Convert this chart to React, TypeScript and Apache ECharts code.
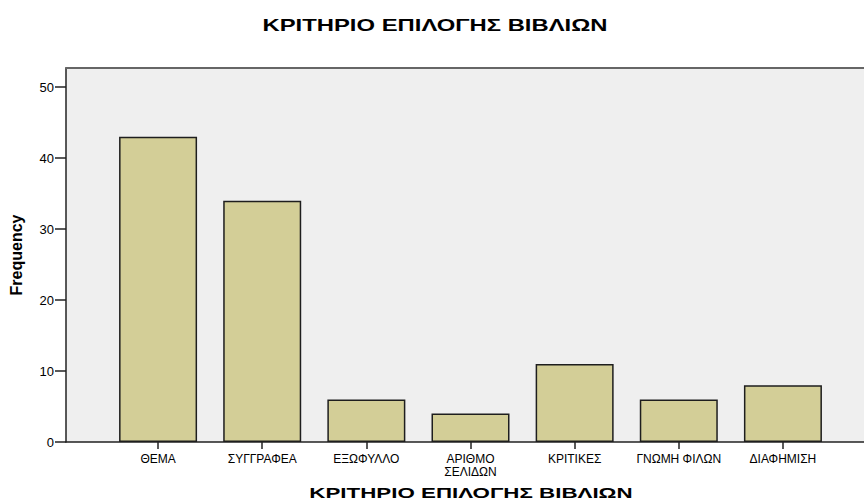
import React, { useEffect, useRef } from "react";
import * as echarts from "echarts";

const categories = [
  "ΘΕΜΑ",
  "ΣΥΓΓΡΑΦΕΑ",
  "ΕΞΩΦΥΛΛΟ",
  "ΑΡΙΘΜΟ\nΣΕΛΙΔΩΝ",
  "ΚΡΙΤΙΚΕΣ",
  "ΓΝΩΜΗ ΦΙΛΩΝ",
  "ΔΙΑΦΗΜΙΣΗ",
];
const frequencies = [43, 34, 6, 4, 11, 6, 8];
const yTicks = [0, 10, 20, 30, 40, 50];
const chartTitle = "ΚΡΙΤΗΡΙΟ ΕΠΙΛΟΓΗΣ ΒΙΒΛΙΩΝ";
const xAxisTitle = "ΚΡΙΤΗΡΙΟ ΕΠΙΛΟΓΗΣ ΒΙΒΛΙΩΝ";
const yAxisTitle = "Frequency";

const FONT = "'Liberation Sans', Arial, sans-serif";
const Y_MAX = 52.7;

export default function App() {
  const ref = useRef<HTMLDivElement>(null);

  useEffect(() => {
    if (!ref.current) return;
    const chart = echarts.init(ref.current, undefined, { renderer: "svg" });
    const gridTop = 68;
    const gridBottom = 60;

    chart.setOption({
      animation: false,
      backgroundColor: "#ffffff",
      textStyle: { fontFamily: FONT },
      graphic: [
        // wide bold headings
        {
          type: "text",
          x: 435,
          y: 25,
          scaleX: 1.49,
          silent: true,
          style: {
            text: chartTitle,
            font: `bold 16px ${FONT}`,
            fill: "#000",
            textAlign: "center",
            textVerticalAlign: "middle",
          },
        },
        {
          type: "text",
          x: 471,
          y: 493,
          scaleX: 1.49,
          silent: true,
          style: {
            text: xAxisTitle,
            font: `bold 15px ${FONT}`,
            fill: "#000",
            textAlign: "center",
            textVerticalAlign: "middle",
          },
        },
      ],
      grid: [
        // frame with the frequency scale
        {
          left: 66,
          right: 0,
          top: gridTop,
          bottom: gridBottom,
          show: true,
          backgroundColor: "#efefef",
          borderWidth: 0,
          outerBoundsMode: "none",
        },
        // category band holding the bars
        {
          left: 106,
          right: 29,
          top: gridTop,
          bottom: gridBottom,
          outerBoundsMode: "none",
        },
      ],
      xAxis: [
        {
          gridIndex: 0,
          type: "value",
          min: 0,
          max: 1,
          position: "bottom",
          axisLine: { show: true, lineStyle: { color: "#222", width: 1.5 } },
          axisTick: { show: false },
          axisLabel: { show: false },
          splitLine: { show: false },
        },
        {
          gridIndex: 0,
          type: "value",
          min: 0,
          max: 1,
          position: "top",
          axisLine: { show: true, lineStyle: { color: "#666", width: 2 } },
          axisTick: { show: false },
          axisLabel: { show: false },
          splitLine: { show: false },
        },
        {
          gridIndex: 1,
          type: "category",
          data: categories,
          position: "bottom",
          axisLine: { show: false },
          axisTick: {
            show: true,
            alignWithLabel: true,
            length: 7,
            lineStyle: { color: "#222", width: 1.5 },
          },
          axisLabel: {
            color: "#000",
            fontSize: 12,
            margin: 10,
            lineHeight: 13,
            interval: 0,
            fontFamily: FONT,
          },
        },
      ],
      yAxis: [
        {
          gridIndex: 0,
          type: "value",
          min: 0,
          max: Y_MAX,
          axisLine: { show: true, lineStyle: { color: "#222", width: 1.5 } },
          axisTick: {
            show: true,
            length: 11,
            customValues: yTicks,
            lineStyle: { color: "#222", width: 1.5 },
          },
          axisLabel: {
            color: "#000",
            fontSize: 13,
            margin: 12,
            customValues: yTicks,
            fontFamily: FONT,
          },
          splitLine: { show: false },
          name: yAxisTitle,
          nameLocation: "middle",
          nameGap: 42,
          nameTextStyle: { fontSize: 16, fontWeight: "bold", color: "#000", fontFamily: FONT },
        },
        {
          gridIndex: 1,
          type: "value",
          min: 0,
          max: Y_MAX,
          show: false,
        },
      ],
      series: [
        {
          type: "bar",
          xAxisIndex: 2,
          yAxisIndex: 1,
          data: frequencies,
          barWidth: 78,
          itemStyle: { color: "#d3ce97", borderColor: "#1e1e1e", borderWidth: 1.5 },
        },
      ],
    });

    return () => chart.dispose();
  }, []);

  return (
    <div
      ref={ref}
      style={{ position: "fixed", left: 0, top: 0, width: 864, height: 502 }}
    />
  );
}
